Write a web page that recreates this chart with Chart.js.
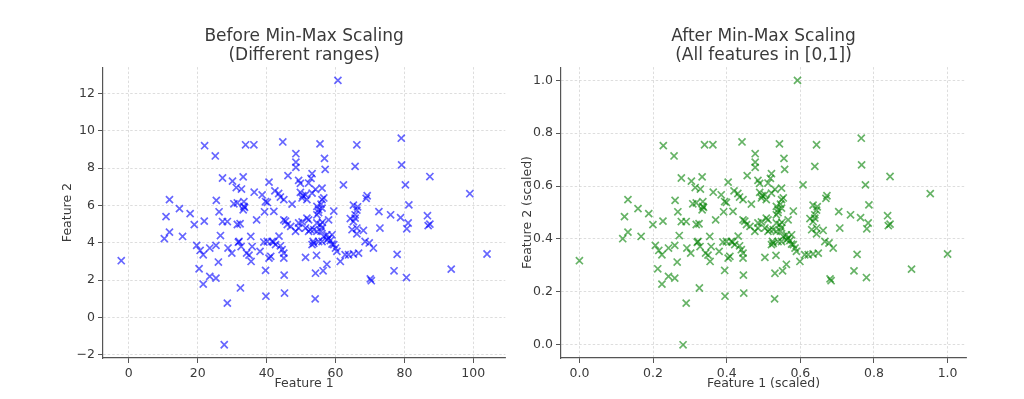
<!DOCTYPE html>
<html>
<head>
<meta charset="utf-8">
<script src="https://cdn.jsdelivr.net/npm/chart.js@4.4.1/dist/chart.umd.min.js"></script>
<style>
  html, body { margin: 0; padding: 0; background: #fff; }
  #wrap { position: relative; width: 1024px; height: 399px; }
  .panel { position: absolute; top: 0; width: 512px; height: 399px; }
</style>
</head>
<body>
<div id="wrap">
  <div class="panel" style="left:0"><canvas id="before"></canvas></div>
  <div class="panel" style="left:512px"><canvas id="after"></canvas></div>
</div>
<script>
// raw features
const feature1 = [
  60.7,22.0,33.9,36.3,44.7,55.5,66.2,79.1,25.1,48.5,
  56.8,48.5,79.2,48.5,65.7,57.0,46.2,53.2,33.2,87.4,
  27.2,52.9,30.1,49.3,52.2,40.7,49.8,62.3,80.3,31.2,
  32.7,56.1,54.2,42.4,36.4,49.8,38.7,43.5,50.5,53.2,
  51.3,69.2,99.0,44.0,56.6,68.9,50.3,45.0,51.7,11.8,
  25.4,56.1,39.7,33.4,40.2,31.5,30.5,47.4,55.8,81.3,
  65.2,66.4,33.4,54.6,33.6,14.7,56.1,33.2,55.1,66.2,
  26.2,39.4,42.1,59.5,72.6,55.1,17.8,76.0,65.7,86.7,
  10.8,54.6,78.9,51.7,65.7,64.3,52.2,58.0,37.1,45.0,
  21.9,45.5,27.2,28.6,50.3,65.2,81.1,49.3,54.6,32.3,
  31.5,19.0,46.0,55.6,87.4,86.9,47.0,56.1,51.3,49.3,
  66.2,72.9,80.7,64.8,53.7,52.7,68.1,48.4,52.2,54.6,
  11.8,66.2,57.5,59.0,26.6,43.6,15.6,35.4,56.6,58.0,
  10.3,57.5,58.5,32.0,40.2,41.6,53.5,55.1,56.1,68.6,
  39.2,42.0,31.8,69.8,53.7,59.0,42.6,53.2,59.5,19.7,
  25.3,44.0,35.8,32.6,23.5,28.8,60.0,71.0,44.5,20.7,
  38.1,60.4,29.9,34.2,45.0,66.7,104.0,65.2,77.9,21.6,
  34.9,54.5,62.8,63.8,41.2,51.3,40.7,45.0,-2.2,26.0,
  35.5,61.4,57.5,20.4,93.6,39.7,56.4,77.0,54.2,45.1,
  23.5,80.6,25.3,70.1,70.4,21.6,32.4,45.2,39.8,54.1,
  28.6,27.7,56.2,55.8
];
const feature2 = [
  12.7,9.2,9.25,9.25,9.4,9.3,9.25,9.6,8.65,8.77,
  8.52,8.32,8.17,8.04,8.09,7.93,7.6,7.7,7.53,7.55,
  7.47,7.45,7.3,7.34,7.2,7.25,7.18,7.1,7.1,6.96,
  6.88,6.93,6.86,6.78,6.71,6.7,6.57,6.64,6.52,6.66,
  6.57,6.52,6.63,6.45,6.4,6.38,6.4,6.31,6.31,6.31,
  6.27,6.31,6.21,6.2,6.16,6.14,6.09,6.07,6.07,6.03,
  6.02,5.93,5.95,5.95,5.9,5.83,5.86,5.77,5.77,5.75,
  5.66,5.66,5.68,5.7,5.67,5.62,5.56,5.5,5.5,5.45,
  5.4,5.5,5.35,5.32,5.32,5.3,5.23,5.23,5.23,5.23,
  5.16,5.16,5.14,5.14,5.12,5.14,5.06,5.06,5.06,5.02,
  4.98,4.97,4.97,4.97,5.0,4.92,4.88,4.8,4.79,4.79,
  4.79,4.79,4.75,4.7,4.7,4.7,4.66,4.61,4.61,4.61,
  4.57,4.48,4.43,4.43,4.39,4.36,4.34,4.34,4.34,4.25,
  4.22,4.16,4.12,4.07,4.07,4.07,4.07,4.07,4.07,4.07,
  4.04,4.04,4.03,3.99,3.97,3.93,3.9,3.9,3.9,3.86,
  3.86,3.84,3.8,3.8,3.72,3.72,3.72,3.72,3.63,3.59,
  3.54,3.54,3.45,3.45,3.45,3.45,3.4,3.4,3.38,3.36,
  3.34,3.33,3.36,3.36,3.27,3.22,3.18,3.18,3.04,2.97,
  3.0,3.0,2.85,2.61,2.59,2.52,2.5,2.5,2.37,2.27,
  2.2,2.14,2.11,2.07,1.97,1.79,1.58,1.31,1.14,1.0,
  0.77,-1.46,5.1,4.62
];

const rawTicksX = [0, 20, 40, 60, 80, 100];
const rawTicksY = [-2, 0, 2, 4, 6, 8, 10, 12];
const scaledTicks = [0, 0.2, 0.4, 0.6, 0.8, 1.0];

// min-max scaling, which is what the right panel shows
function minMax(arr) {
  const lo = Math.min(...arr), hi = Math.max(...arr);
  return arr.map(v => (v - lo) / (hi - lo));
}
const scaled1 = minMax(feature1);
const scaled2 = minMax(feature2);

const ink = "#3a3a3a";
const family = "'DejaVu Sans', sans-serif";

function fmtRaw(v) { return v < 0 ? "\u2212" + Math.abs(v) : String(v); }
function fmtScaled(v) { return v.toFixed(1); }

function axis(cfg, horizontal) {
  return {
    type: "linear",
    min: cfg.min,
    max: cfg.max,
    afterBuildTicks: s => { s.ticks = cfg.ticks.map(v => ({ value: v })); },
    afterFit: s => { if (horizontal) s.height = 41; else s.width = cfg.width; },
    grid: { color: "rgba(0,0,0,0.17)", lineWidth: 0.8, tickLength: 5, tickColor: "#555", tickWidth: 1 },
    border: { display: true, color: "#555", width: 1.2, dash: [2.5, 2] },
    ticks: {
      autoSkip: false, maxRotation: 0, padding: 3, color: ink,
      font: { family, size: 12.5 },
      callback: cfg.fmt
    },
    title: {
      display: true, text: cfg.label, color: ink,
      font: { family, size: 12.5 },
      padding: horizontal ? { top: 0, bottom: 8 } : { top: cfg.titlePad, bottom: 0 }
    }
  };
}

function makePanel(id, xs, ys, color, cfg) {
  return new Chart(document.getElementById(id), {
    type: "scatter",
    data: {
      datasets: [{
        data: xs.map((x, i) => ({ x, y: ys[i] })),
        pointStyle: "crossRot",
        pointRadius: 5,
        pointHoverRadius: 5,
        borderWidth: 1.7,
        borderColor: color,
        backgroundColor: color
      }]
    },
    options: {
      responsive: true,
      maintainAspectRatio: false,
      animation: false,
      devicePixelRatio: 1,
      events: [],
      layout: { padding: { top: 26.5, left: 0, right: cfg.padRight, bottom: 0 } },
      plugins: {
        legend: { display: false },
        tooltip: { enabled: false },
        title: {
          display: true, text: cfg.title, fullSize: false, color: ink,
          font: { family, size: 17, weight: "normal", lineHeight: 1.15 },
          padding: { top: 0, bottom: 1.5 }
        }
      },
      scales: {
        x: axis(cfg.x, true),
        y: axis(cfg.y, false)
      }
    }
  });
}

makePanel("before", feature1, feature2, "rgba(0,0,255,0.6)", {
  title: ["Before Min-Max Scaling", "(Different ranges)"],
  padRight: 4,
  x: { min: -7.5, max: 109.3, ticks: rawTicksX, fmt: fmtRaw, label: "Feature 1" },
  y: { min: -2.17, max: 13.41, ticks: rawTicksY, fmt: fmtRaw, label: "Feature 2", width: 103, titlePad: 60 }
});

makePanel("after", scaled1, scaled2, "rgba(0,128,0,0.6)", {
  title: ["After Min-Max Scaling", "(All features in [0,1])"],
  padRight: 58,
  x: { min: -0.05, max: 1.05, ticks: scaledTicks, fmt: fmtScaled, label: "Feature 1 (scaled)" },
  y: { min: -0.05, max: 1.05, ticks: scaledTicks, fmt: fmtScaled, label: "Feature 2 (scaled)", width: 49, titlePad: 8 }
});
</script>
</body>
</html>
